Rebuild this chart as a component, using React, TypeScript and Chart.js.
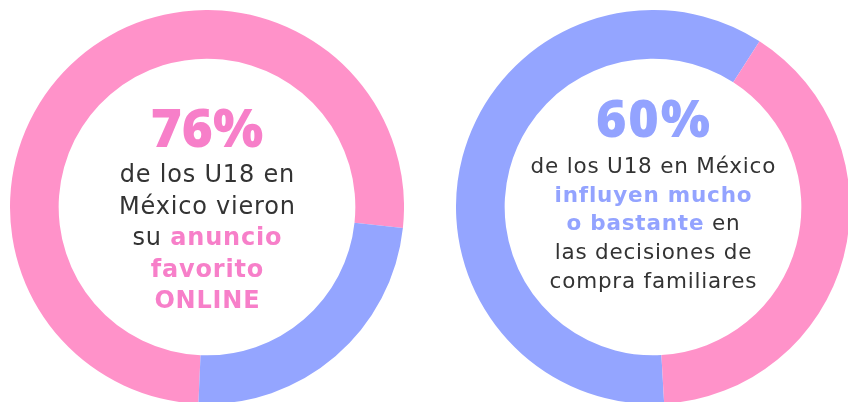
import React, { useEffect, useRef } from "react";
import { Chart, registerables } from "chart.js";

Chart.register(...registerables);

// ---- data ----
const leftCategories = ["Vieron su anuncio favorito online", "Resto"];
const leftValues = [76, 24];
const rightCategories = ["Influyen mucho o bastante", "Resto"];
const rightValues = [60, 40];

// text lines (hi = highlighted / bold words)
const leftLines = [
  [{ t: "de los U18 en" }],
  [{ t: "México vieron" }],
  [{ t: "su " }, { t: "anuncio", hi: true }],
  [{ t: "favorito", hi: true }],
  [{ t: "ONLINE", hi: true }],
];
const rightLines = [
  [{ t: "de los U18 en México" }],
  [{ t: "influyen mucho", hi: true }],
  [{ t: "o bastante", hi: true }, { t: " en" }],
  [{ t: "las decisiones de" }],
  [{ t: "compra familiares" }],
];

const PINK = "#FF92C9";
const BLUE = "#94A5FF";
const PINK_TEXT = "#F77FC9";
const BLUE_TEXT = "#93A3FF";
const DARK = "#333333";

type Seg = { t: string; hi?: boolean };

function makeCenterPlugin(cfg: {
  headline: string;
  headColor: string;
  headFont: string;
  headLs: number;
  headDy: number;
  lines: Seg[][];
  hiColor: string;
  bodySize: number;
  bodyLs: number;
  firstDy: number;
  lineH: number;
}) {
  return {
    id: "centerText",
    afterDraw(chart: any) {
      const arc = chart.getDatasetMeta(0).data[0];
      const cx = arc.x;
      const cy = arc.y;
      const ctx = chart.ctx as CanvasRenderingContext2D;
      ctx.save();
      ctx.textAlign = "left";
      ctx.textBaseline = "alphabetic";
      // headline
      ctx.font = cfg.headFont;
      (ctx as any).letterSpacing = cfg.headLs + "px";
      const hw = ctx.measureText(cfg.headline).width - cfg.headLs;
      ctx.fillStyle = cfg.headColor;
      ctx.fillText(cfg.headline, cx - hw / 2, cy + cfg.headDy);
      // body lines
      cfg.lines.forEach((segs, li) => {
        const widths: number[] = [];
        let total = 0;
        segs.forEach((s) => {
          ctx.font = `${s.hi ? "bold " : ""}${cfg.bodySize}px "DejaVu Sans"`;
          (ctx as any).letterSpacing = cfg.bodyLs + "px";
          const w = ctx.measureText(s.t).width;
          widths.push(w);
          total += w;
        });
        total -= cfg.bodyLs;
        let x = cx - total / 2;
        const y = cy + cfg.firstDy + li * cfg.lineH;
        segs.forEach((s, i) => {
          ctx.font = `${s.hi ? "bold " : ""}${cfg.bodySize}px "DejaVu Sans"`;
          (ctx as any).letterSpacing = cfg.bodyLs + "px";
          ctx.fillStyle = s.hi ? cfg.hiColor : DARK;
          ctx.fillText(s.t, x, y);
          x += widths[i];
        });
      });
      ctx.restore();
    },
  };
}

function Donut(props: {
  left: number;
  top: number;
  labels: string[];
  values: number[];
  colors: string[];
  rotation: number;
  plugin: any;
}) {
  const ref = useRef<HTMLCanvasElement | null>(null);
  useEffect(() => {
    if (!ref.current) return;
    const chart = new Chart(ref.current, {
      type: "doughnut",
      data: {
        labels: props.labels,
        datasets: [
          {
            data: props.values,
            backgroundColor: props.colors,
            borderWidth: 0,
            hoverOffset: 0,
          },
        ],
      },
      options: {
        responsive: false,
        maintainAspectRatio: false,
        animation: false,
        cutout: "75.3%",
        rotation: props.rotation,
        layout: { padding: 0 },
        plugins: {
          legend: { display: false },
          tooltip: { enabled: false },
        },
        events: [],
      },
      plugins: [props.plugin],
    });
    return () => chart.destroy();
  }, []);
  return (
    <canvas
      ref={ref}
      width={394}
      height={394}
      style={{ position: "absolute", left: props.left, top: props.top, width: 394, height: 394 }}
    />
  );
}

export default function App() {
  const leftPlugin = makeCenterPlugin({
    headline: `${leftValues[0]}%`,
    headColor: PINK_TEXT,
    headFont: '800 53px "Open Sans"',
    headLs: 0,
    headDy: -60.5,
    lines: leftLines,
    hiColor: PINK_TEXT,
    bodySize: 24,
    bodyLs: 0.8,
    firstDy: -25,
    lineH: 31.6,
  });
  const rightPlugin = makeCenterPlugin({
    headline: `${rightValues[0]}%`,
    headColor: BLUE_TEXT,
    headFont: '800 52px "Open Sans"',
    headLs: 2,
    headDy: -70.5,
    lines: rightLines,
    hiColor: BLUE_TEXT,
    bodySize: 21.5,
    bodyLs: 0.8,
    firstDy: -34,
    lineH: 28.7,
  });
  return (
    <div
      style={{
        position: "fixed",
        left: 0,
        top: 0,
        width: 848,
        height: 402,
        overflow: "hidden",
        background: "#ffffff",
      }}
    >
      <Donut
        left={10}
        top={10}
        labels={leftCategories}
        values={leftValues}
        colors={[PINK, BLUE]}
        rotation={182.5}
        plugin={leftPlugin}
      />
      <Donut
        left={456}
        top={10}
        labels={rightCategories}
        values={rightValues}
        colors={[BLUE, PINK]}
        rotation={176.75}
        plugin={rightPlugin}
      />
    </div>
  );
}
